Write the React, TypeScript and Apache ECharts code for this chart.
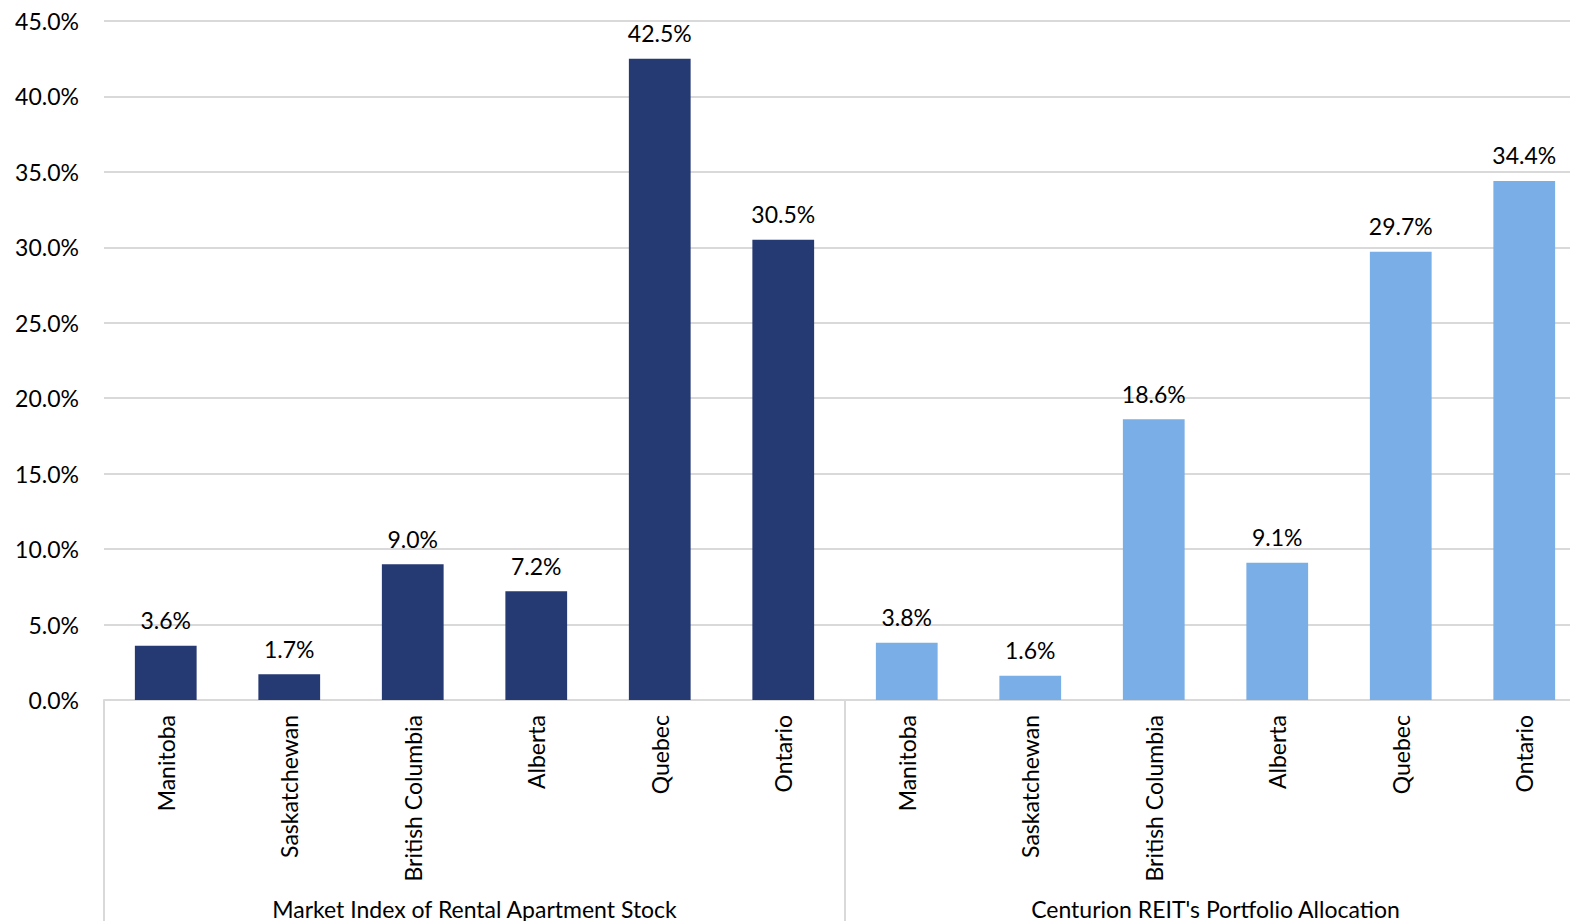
import React, { useEffect, useRef } from "react";
import * as echarts from "echarts";

const provinces = ["Manitoba", "Saskatchewan", "British Columbia", "Alberta", "Quebec", "Ontario"];
const groups = ["Market Index of Rental Apartment Stock", "Centurion REIT's Portfolio Allocation"];
const marketValues = [3.6, 1.7, 9.0, 7.2, 42.5, 30.5];
const centurionValues = [3.8, 1.6, 18.6, 9.1, 29.7, 34.4];
const yTicks = { min: 0, max: 45, interval: 5 };

const DARK = "#253a73";
const LIGHT = "#7aaee6";
const FONT = "Lato, 'Open Sans', sans-serif";
const FS = 23;

export default function App() {
  const ref = useRef<HTMLDivElement>(null);
  useEffect(() => {
    if (!ref.current) return;
    const chart = echarts.init(ref.current, null, { renderer: "svg" });
    const cats = [...provinces, ...provinces];
    const pad = provinces.map(() => "-");
    const labelCfg = {
      show: true,
      position: "top",
      distance: 14,
      color: "#000",
      fontSize: FS,
      fontFamily: FONT,
      formatter: (p: any) => Number(p.value).toFixed(1) + "%",
    };
    chart.setOption({
      animation: false,
      backgroundColor: "#fff",
      grid: { left: 104, right: 0, top: 21, bottom: 221, containLabel: false },
      xAxis: [
        {
          type: "category",
          data: cats,
          axisLine: { show: true, lineStyle: { color: "#d9d9d9", width: 2 } },
          axisTick: { show: false },
          axisLabel: {
            rotate: 90,
            interval: 0,
            margin: 15,
            color: "#000",
            fontSize: FS,
            fontFamily: FONT,
          },
        },
        {
          type: "category",
          position: "bottom",
          data: groups,
          axisLine: { show: false },
          axisTick: { show: true, length: 230, lineStyle: { color: "#d9d9d9", width: 2 } },
          axisLabel: {
            interval: 0,
            margin: 197,
            color: "#000",
            fontSize: FS,
            fontFamily: FONT,
          },
        },
      ],
      yAxis: {
        type: "value",
        min: yTicks.min,
        max: yTicks.max,
        interval: yTicks.interval,
        axisLine: { show: false },
        axisTick: { show: false },
        splitLine: { lineStyle: { color: "#d9d9d9", width: 2 } },
        axisLabel: {
          margin: 25,
          color: "#000",
          fontSize: FS,
          fontFamily: FONT,
          formatter: (v: number) => v.toFixed(1) + "%",
        },
      },
      series: [
        {
          type: "bar",
          stack: "all",
          data: [...marketValues, ...pad],
          itemStyle: { color: DARK },
          barWidth: "50%",
          label: labelCfg,
        },
        {
          type: "bar",
          stack: "all",
          data: [...pad, ...centurionValues],
          itemStyle: { color: LIGHT },
          barWidth: "50%",
          label: labelCfg,
        },
      ],
    });
    return () => chart.dispose();
  }, []);
  return (
    <div
      style={{ position: "absolute", left: 0, top: 0, width: 1570, height: 921, overflow: "hidden" }}
    >
      <div ref={ref} style={{ width: 1586, height: 921 }} />
    </div>
  );
}
